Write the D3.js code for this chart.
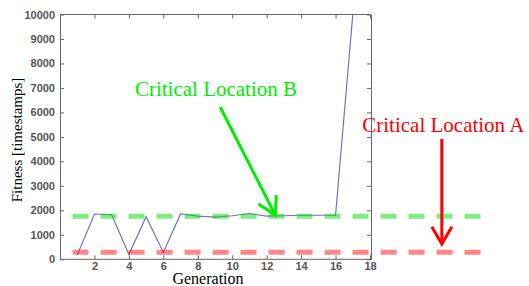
<!DOCTYPE html>
<html>
<head>
<meta charset="utf-8">
<script src="https://cdn.jsdelivr.net/npm/d3@7"></script>
<style>
body { margin: 0; background: #fff; }
.tick text { font-family: "Liberation Sans", Arial, sans-serif; font-weight: bold; font-size: 11px; fill: #555; }
</style>
</head>
<body>
<svg class="chart"></svg>
<script>
// fitness per generation
var generations = [1, 2, 3, 4, 5, 6, 7, 8, 9, 10, 11, 12, 13, 14, 15, 16, 17];
var fitness = [170, 1850, 1820, 200, 1740, 280, 1850, 1760, 1720, 1780, 1870, 1760, 1780, 1800, 1800, 1800, 10000];

var xTicks = [2, 4, 6, 8, 10, 12, 14, 16, 18];
var yTicks = [0, 1000, 2000, 3000, 4000, 5000, 6000, 7000, 8000, 9000, 10000];

// critical thresholds (dashed lines)
var criticalA = 285;
var criticalB = 1760;

var W = 529, H = 286;
var mLeft = 60, mRight = 371, mTop = 14.5, mBottom = 259.3;

var chart = d3.select(".chart").attr("width", W).attr("height", H);

var x = d3.scaleLinear().domain([0, 18]).range([mLeft, mRight - 1]);
var y = d3.scaleLinear().domain([0, 10000]).range([mBottom, mTop]);

chart.append("clipPath").attr("id", "clip")
  .append("rect").attr("x", mLeft).attr("y", mTop).attr("width", mRight - mLeft).attr("height", mBottom - mTop);

// axes, MATLAB style with inward ticks on all sides
var axisColor = "#666";
var gx = chart.append("g").attr("transform", "translate(0," + mBottom + ")")
  .call(d3.axisBottom(x).tickValues(xTicks).tickSizeInner(-4).tickSizeOuter(0).tickPadding(3).tickFormat(d3.format("d")));
var gxTop = chart.append("g").attr("transform", "translate(0," + mTop + ")")
  .call(d3.axisTop(x).tickValues(xTicks).tickSizeInner(-4).tickSizeOuter(0).tickFormat(""));
var gy = chart.append("g").attr("transform", "translate(" + mLeft + ",0)")
  .call(d3.axisLeft(y).tickValues(yTicks).tickSizeInner(-4).tickSizeOuter(0).tickPadding(5).tickFormat(d3.format("d")));
var gyRight = chart.append("g").attr("transform", "translate(" + mRight + ",0)")
  .call(d3.axisRight(y).tickValues(yTicks).tickSizeInner(-4).tickSizeOuter(0).tickFormat(""));
[gx, gxTop, gy, gyRight].forEach(function(g) {
  g.selectAll("path, line").attr("stroke", axisColor);
});
gx.select(".domain").attr("d", "M" + mLeft + ",0H" + mRight);
gxTop.select(".domain").attr("d", "M" + mLeft + ",0H" + mRight);

// fitness line
var line = d3.line()
  .x(function(d, i) { return x(generations[i]); })
  .y(function(d) { return y(d); });

chart.append("path")
  .datum(fitness)
  .attr("clip-path", "url(#clip)")
  .attr("fill", "none")
  .attr("stroke", "#7070cc")
  .attr("stroke-width", 1.2)
  .attr("d", line);

// dashed threshold lines
var dashFrom = 0.73, dashTo = 24.45;
chart.append("line")
  .attr("x1", x(dashFrom)).attr("x2", x(dashTo))
  .attr("y1", y(criticalB)).attr("y2", y(criticalB))
  .attr("stroke", "rgba(0,220,0,0.5)").attr("stroke-width", 5)
  .attr("stroke-dasharray", "16,12");
chart.append("line")
  .attr("x1", x(dashFrom)).attr("x2", x(dashTo))
  .attr("y1", y(criticalA)).attr("y2", y(criticalA))
  .attr("stroke", "rgba(255,0,0,0.47)").attr("stroke-width", 5)
  .attr("stroke-dasharray", "16,12");

// arrows
function arrow(x1, y1, x2, y2, color) {
  var px1 = x(x1), py1 = y(y1), px2 = x(x2), py2 = y(y2);
  var ang = Math.atan2(py1 - py2, px1 - px2);
  var len = 20, spread = Math.PI / 6;
  var g = chart.append("g").attr("stroke", color).attr("stroke-width", 3).attr("fill", "none");
  g.append("line").attr("x1", px1).attr("y1", py1).attr("x2", px2).attr("y2", py2);
  g.append("polyline").attr("points", [
    [px2 + len * Math.cos(ang - spread), py2 + len * Math.sin(ang - spread)],
    [px2, py2],
    [px2 + len * Math.cos(ang + spread), py2 + len * Math.sin(ang + spread)]
  ].map(function(p) { return p.join(","); }).join(" "));
}
arrow(9.3, 6220, 12.5, 1810, "#00ee00");
arrow(22.17, 4915, 22.17, 625, "#ff0000");

// annotation labels
chart.append("text")
  .attr("x", x(4.35)).attr("y", y(6680))
  .style("font-family", "'Liberation Serif', 'Times New Roman', serif")
  .style("font-size", "21px").style("fill", "#00ee00")
  .text("Critical Location B");
chart.append("text")
  .attr("x", x(17.55)).attr("y", y(5200))
  .style("font-family", "'Liberation Serif', 'Times New Roman', serif")
  .style("font-size", "21px").style("fill", "#ff0000")
  .text("Critical Location A");

// axis titles
chart.append("text")
  .attr("x", 208).attr("y", 284)
  .attr("text-anchor", "middle")
  .style("font-family", "'Liberation Serif', 'Times New Roman', serif")
  .style("font-size", "16px").style("fill", "#000")
  .text("Generation");
chart.append("text")
  .attr("transform", "translate(22,140) rotate(-90)")
  .attr("text-anchor", "middle")
  .style("font-family", "'Liberation Serif', 'Times New Roman', serif")
  .style("font-size", "15px").style("fill", "#000")
  .text("Fitness [timestamps]");
</script>
</body>
</html>
